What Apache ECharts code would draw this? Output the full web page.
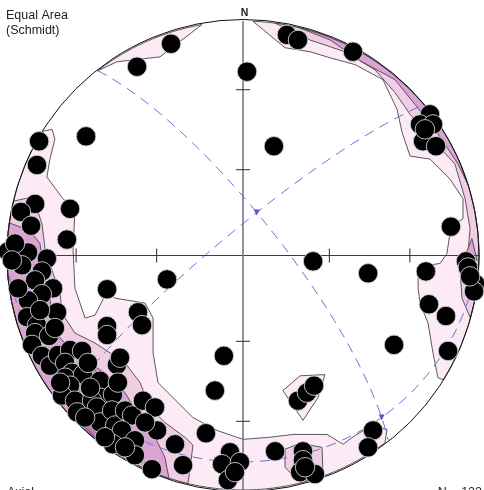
<!DOCTYPE html>
<html>
<head>
<meta charset="utf-8">
<script src="https://cdn.jsdelivr.net/npm/echarts@6/dist/echarts.min.js"></script>
<style>
  html, body { margin: 0; padding: 0; background: #fff; }
  #chart { width: 484px; height: 490px; }
</style>
</head>
<body>
<div id="chart"></div>
<script>
// Poles on a lower-hemisphere equal-area (Schmidt) net, projected x/y with unit net radius.
const poles = [
  [-0.305, 0.903], [-0.449, 0.805], [0.186, 0.941], [0.233, 0.919], [0.017, 0.784],
  [0.131, 0.466], [-0.665, 0.508], [-0.864, 0.487], [-0.873, 0.386], [0.466, 0.869],
  [0.792, 0.602], [0.750, 0.559], [0.805, 0.559], [0.763, 0.487], [0.818, 0.466],
  [0.881, 0.123], [0.297, -0.025], [0.530, -0.076], [0.775, -0.068], [0.945, -0.025],
  [0.953, -0.051], [0.983, -0.119], [0.979, -0.153], [0.788, -0.208], [0.860, -0.258],
  [0.869, -0.407], [0.640, -0.381], [0.551, -0.746], [0.530, -0.818], [-0.322, -0.102],
  [-0.081, -0.428], [-0.119, -0.576], [0.233, -0.619], [0.271, -0.585], [0.301, -0.555],
  [-0.157, -0.758], [0.136, -0.835], [-0.055, -0.839], [-0.089, -0.890], [-0.013, -0.881],
  [-0.064, -0.958], [0.254, -0.835], [0.254, -0.873], [0.242, -0.924], [0.305, -0.932],
  [-0.881, 0.220], [-0.941, 0.186], [-0.898, 0.127], [-0.733, 0.199], [-0.746, 0.068],
  [-0.996, 0.017], [-0.911, 0.013], [-0.831, -0.013], [-0.936, -0.042], [-0.852, -0.068],
  [-0.881, -0.106], [-0.805, -0.140], [-0.852, -0.165], [-0.911, -0.191], [-0.788, -0.242],
  [-0.915, -0.263], [-0.576, -0.144], [-0.445, -0.242], [-0.428, -0.297], [-0.576, -0.301],
  [-0.873, -0.297], [-0.881, -0.331], [-0.822, -0.343], [-0.894, -0.381], [-0.852, -0.428],
  [-0.818, -0.470], [-0.784, -0.424], [-0.733, -0.403], [-0.682, -0.407], [-0.754, -0.458],
  [-0.725, -0.500], [-0.754, -0.521], [-0.678, -0.508], [-0.733, -0.555], [-0.767, -0.597],
  [-0.712, -0.619], [-0.703, -0.669], [-0.606, -0.534], [-0.606, -0.606], [-0.551, -0.593],
  [-0.640, -0.619], [-0.619, -0.648], [-0.606, -0.712], [-0.555, -0.661], [-0.542, -0.725],
  [-0.500, -0.661], [-0.470, -0.682], [-0.513, -0.746], [-0.551, -0.805], [-0.458, -0.788],
  [-0.458, -0.852], [-0.386, -0.911], [-0.576, -0.339], [-0.534, -0.466], [-0.521, -0.436],
  [-0.424, -0.619], [-0.373, -0.648], [-0.364, -0.746], [-0.288, -0.805], [-0.254, -0.894],
  [-0.966, 0.051], [-0.979, -0.021], [-0.953, -0.140], [-0.860, -0.233], [-0.797, -0.309],
  [-0.657, -0.458], [-0.648, -0.564], [-0.775, -0.542], [-0.669, -0.691], [-0.585, -0.775],
  [-0.500, -0.818], [-0.415, -0.712], [-0.530, -0.542], [0.263, -0.903], [-0.034, -0.924],
  [0.771, 0.538], [0.962, -0.089]
];

// Planes drawn as great circles: dip direction and dip, degrees.
const planeDipDirections = [52, 320, 178];
const planeDips = [77, 81.5, 13];

// Reference ticks on the cross, degrees from the centre.
const tickAngles = [30, 60];

// Density contour bands. A band leaves the primitive at azimuth `from`,
// follows its inner edge, meets the primitive again at `to` and closes along it.
const bandNorthWest1 = { from: 322, to: 350, inner: [[-0.534, 0.826], [-0.352, 0.847]] };
const bandWest1 = { from: 302, to: 143, inner: [
  [-0.809, 0.538], [-0.797, 0.496], [-0.818, 0.411], [-0.831, 0.335], [-0.763, 0.242],
  [-0.712, 0.199], [-0.720, 0.021], [-0.712, -0.140], [-0.669, -0.267], [-0.627, -0.254],
  [-0.576, -0.153], [-0.542, -0.182], [-0.415, -0.203], [-0.381, -0.267], [-0.381, -0.415],
  [-0.360, -0.542], [-0.212, -0.691], [-0.110, -0.746], [0.000, -0.784], [0.114, -0.775],
  [0.212, -0.763], [0.356, -0.763], [0.424, -0.805], [0.475, -0.767], [0.547, -0.725],
  [0.610, -0.742]
] };
const bandEast1 = { from: 122, to: 2.4, inner: [
  [0.826, -0.521], [0.805, -0.415], [0.784, -0.288], [0.750, -0.203], [0.742, -0.140],
  [0.742, -0.047], [0.835, -0.034], [0.864, 0.008], [0.881, 0.123], [0.932, 0.157],
  [0.932, 0.242], [0.877, 0.326], [0.792, 0.411], [0.708, 0.424], [0.674, 0.525],
  [0.653, 0.623], [0.593, 0.750], [0.475, 0.814], [0.369, 0.843], [0.284, 0.869],
  [0.178, 0.886]
] };
const patchCentral1 = [[0.169, -0.576], [0.242, -0.513], [0.347, -0.508], [0.318, -0.606], [0.254, -0.703]];

const bandWest2 = { from: 283.4, to: 193.5, inner: [
  [-0.890, 0.250], [-0.852, 0.136], [-0.839, 0.030], [-0.809, -0.064], [-0.775, -0.161],
  [-0.767, -0.246], [-0.712, -0.331], [-0.627, -0.373], [-0.500, -0.458], [-0.436, -0.542],
  [-0.394, -0.648], [-0.331, -0.712], [-0.246, -0.775], [-0.212, -0.809], [-0.225, -0.915]
] };
const bandEast2 = { from: 105.5, to: 7.8, inner: [
  [0.928, -0.182], [0.919, -0.055], [0.953, 0.008], [0.962, 0.114], [0.941, 0.242],
  [0.898, 0.390], [0.801, 0.496], [0.708, 0.602], [0.644, 0.695], [0.559, 0.792],
  [0.432, 0.869], [0.284, 0.919]
] };
const patchSouth2 = [[0.178, -0.826], [0.242, -0.801], [0.335, -0.818], [0.339, -0.936], [0.242, -0.970], [0.178, -0.903]];

const bandWest3 = { from: 278, to: 198.3, inner: [
  [-0.903, 0.106], [-0.860, 0.051], [-0.847, -0.076], [-0.818, -0.182], [-0.809, -0.267],
  [-0.775, -0.352], [-0.691, -0.436], [-0.585, -0.500], [-0.500, -0.585], [-0.436, -0.691],
  [-0.373, -0.775], [-0.331, -0.860]
] };
const bandEast3 = { from: 72.3, to: 13.9, inner: [
  [0.911, 0.390], [0.822, 0.525], [0.729, 0.644], [0.644, 0.750], [0.504, 0.826], [0.369, 0.919]
] };
const patchEast3 = [[0.970, 0.072], [0.941, 0.000], [0.992, -0.021]];

const patchWest4 = [[-0.733, -0.479], [-0.627, -0.487], [-0.542, -0.585], [-0.500, -0.712],
  [-0.521, -0.797], [-0.627, -0.775], [-0.712, -0.691], [-0.775, -0.585]];

const contourColors = ['#fcebf4', '#f1cde4', '#daa3d2', '#bd78b4'];

const RAD = Math.PI / 180;

// Point on the primitive circle at a given azimuth (clockwise from north).
function rimPoint(az) {
  return [Math.sin(az * RAD), Math.cos(az * RAD)];
}

// Closed outline of a band: rim -> inner edge -> rim -> back along the primitive.
function bandOutline(band) {
  const pts = [rimPoint(band.from), ...band.inner, rimPoint(band.to)];
  const n = Math.max(2, Math.ceil(Math.abs(band.from - band.to) / 2));
  for (let i = 1; i < n; i++) {
    pts.push(rimPoint(band.to + (band.from - band.to) * i / n));
  }
  return pts;
}

const contourRegions = [
  { level: 0, pts: bandOutline(bandNorthWest1) },
  { level: 0, pts: bandOutline(bandWest1) },
  { level: 0, pts: bandOutline(bandEast1) },
  { level: 0, pts: patchCentral1 },
  { level: 1, pts: bandOutline(bandWest2) },
  { level: 1, pts: bandOutline(bandEast2) },
  { level: 1, pts: patchSouth2 },
  { level: 2, pts: bandOutline(bandWest3) },
  { level: 2, pts: bandOutline(bandEast3) },
  { level: 2, pts: patchEast3 },
  { level: 3, pts: patchWest4 }
];

// Equal-area radius for a line at `angle` degrees from the net centre.
function equalAreaRadius(angle) {
  return Math.SQRT2 * Math.sin(angle * RAD / 2);
}

// Project a downward unit vector (east, north, down) onto the net.
function projectLine(e, n, d) {
  const plunge = Math.asin(Math.min(1, Math.max(-1, d)));
  const trend = Math.atan2(e, n);
  const r = Math.SQRT2 * Math.sin((Math.PI / 2 - plunge) / 2);
  return [r * Math.sin(trend), r * Math.cos(trend)];
}

function strikeVector(dd) {
  const s = (dd - 90) * RAD;
  return [Math.sin(s), Math.cos(s), 0];
}
function dipVector(dd, dip) {
  return [Math.cos(dip * RAD) * Math.sin(dd * RAD), Math.cos(dip * RAD) * Math.cos(dd * RAD), Math.sin(dip * RAD)];
}

// Trace of a plane on the lower hemisphere.
function greatCircle(dd, dip) {
  const s = strikeVector(dd), dv = dipVector(dd, dip);
  const pts = [];
  for (let t = 0; t <= 180; t += 1.5) {
    const c = Math.cos(t * RAD), sn = Math.sin(t * RAD);
    pts.push(projectLine(c * s[0] + sn * dv[0], c * s[1] + sn * dv[1], c * s[2] + sn * dv[2]));
  }
  return pts;
}

function cross(a, b) {
  return [a[1] * b[2] - a[2] * b[1], a[2] * b[0] - a[0] * b[2], a[0] * b[1] - a[1] * b[0]];
}

// Line of intersection of two planes, projected.
function intersection(i, j) {
  const n1 = cross(strikeVector(planeDipDirections[i]), dipVector(planeDipDirections[i], planeDips[i]));
  const n2 = cross(strikeVector(planeDipDirections[j]), dipVector(planeDipDirections[j], planeDips[j]));
  let l = cross(n1, n2);
  const len = Math.hypot(l[0], l[1], l[2]);
  l = l.map(v => v / len);
  if (l[2] < 0) l = l.map(v => -v);
  return projectLine(l[0], l[1], l[2]);
}

const intersections = [intersection(0, 1), intersection(0, 2)];

const chart = echarts.init(document.getElementById('chart'), null, { renderer: 'canvas' });

const greatCircleSeries = planeDipDirections.map((dd, i) => ({
  type: 'line',
  data: greatCircle(dd, planeDips[i]),
  symbol: 'none',
  smooth: false,
  clip: false,
  silent: true,
  z: 3,
  lineStyle: { color: '#6c6cda', width: 1, type: [10, 7] }
}));

const font = '"Liberation Sans", Arial, sans-serif';

chart.setOption({
  animation: false,
  backgroundColor: '#ffffff',
  grid: { left: 7, top: 21, width: 472, height: 472, containLabel: false },
  xAxis: { type: 'value', min: -1, max: 1, show: false },
  yAxis: { type: 'value', min: -1, max: 1, show: false },
  graphic: [
    { type: 'text', x: 6, y: 8, style: { text: 'Equal Area\n(Schmidt)', font: '12.5px ' + font, fill: '#222', lineHeight: 15 } },
    { type: 'text', x: 244.5, y: 8, style: { text: 'N', font: 'bold 10.5px ' + font, fill: '#222', align: 'center' } },
    { type: 'text', x: 7, y: 486, style: { text: 'Axial', font: '12.5px ' + font, fill: '#222' } },
    { type: 'text', x: 482, y: 486, style: { text: 'N = ' + poles.length, font: '12.5px ' + font, fill: '#222', align: 'right' } }
  ],
  series: [
    {
      type: 'custom',
      coordinateSystem: 'cartesian2d',
      silent: true,
      z: 1,
      data: contourRegions.map(() => [0, 0]),
      renderItem: (params, api) => {
        const reg = contourRegions[params.dataIndex];
        return {
          type: 'polygon',
          shape: { points: reg.pts.map(p => api.coord(p)) },
          style: { fill: contourColors[reg.level], stroke: '#4b4452', lineWidth: 0.9 }
        };
      }
    },
    ...greatCircleSeries,
    {
      // Cross through the centre with reference ticks
      type: 'custom',
      coordinateSystem: 'cartesian2d',
      silent: true,
      z: 4,
      data: [[0, 0]],
      renderItem: (params, api) => {
        const W = api.coord([-1, 0]), E = api.coord([1, 0]);
        const N = api.coord([0, 1]), S = api.coord([0, -1]);
        const children = [
          { type: 'line', shape: { x1: W[0], y1: W[1], x2: E[0], y2: E[1] }, style: { stroke: '#3e3b48', lineWidth: 1.1 } },
          { type: 'line', shape: { x1: N[0], y1: N[1], x2: S[0], y2: S[1] }, style: { stroke: '#77778a', lineWidth: 1.6 } }
        ];
        const h = 7;
        tickAngles.forEach(a => {
          const r = equalAreaRadius(a);
          [-r, r].forEach(v => {
            const px = api.coord([v, 0]);
            children.push({ type: 'line', shape: { x1: px[0], y1: px[1] - h, x2: px[0], y2: px[1] + h }, style: { stroke: '#3e3b48', lineWidth: 1.1 } });
            const py = api.coord([0, v]);
            children.push({ type: 'line', shape: { x1: py[0] - h, y1: py[1], x2: py[0] + h, y2: py[1] }, style: { stroke: '#3e3b48', lineWidth: 1.1 } });
          });
        });
        return { type: 'group', children };
      }
    },
    {
      // Primitive circle
      type: 'custom',
      coordinateSystem: 'cartesian2d',
      silent: true,
      z: 5,
      data: [[0, 0]],
      renderItem: (params, api) => {
        const c = api.coord([0, 0]);
        const r = api.size([1, 0])[0];
        return { type: 'circle', shape: { cx: c[0], cy: c[1], r }, style: { fill: 'none', stroke: '#111', lineWidth: 1 } };
      }
    },
    {
      type: 'scatter',
      data: intersections,
      symbol: 'triangle',
      symbolRotate: 180,
      symbolSize: 6,
      silent: true,
      z: 6,
      itemStyle: { color: '#5555c8', opacity: 1 }
    },
    {
      type: 'scatter',
      data: poles,
      symbol: 'circle',
      symbolSize: 19.5,
      silent: true,
      z: 10,
      itemStyle: { color: '#000', borderColor: '#cfcfd6', borderWidth: 0.9, opacity: 1 }
    }
  ]
});
</script>
</body>
</html>
